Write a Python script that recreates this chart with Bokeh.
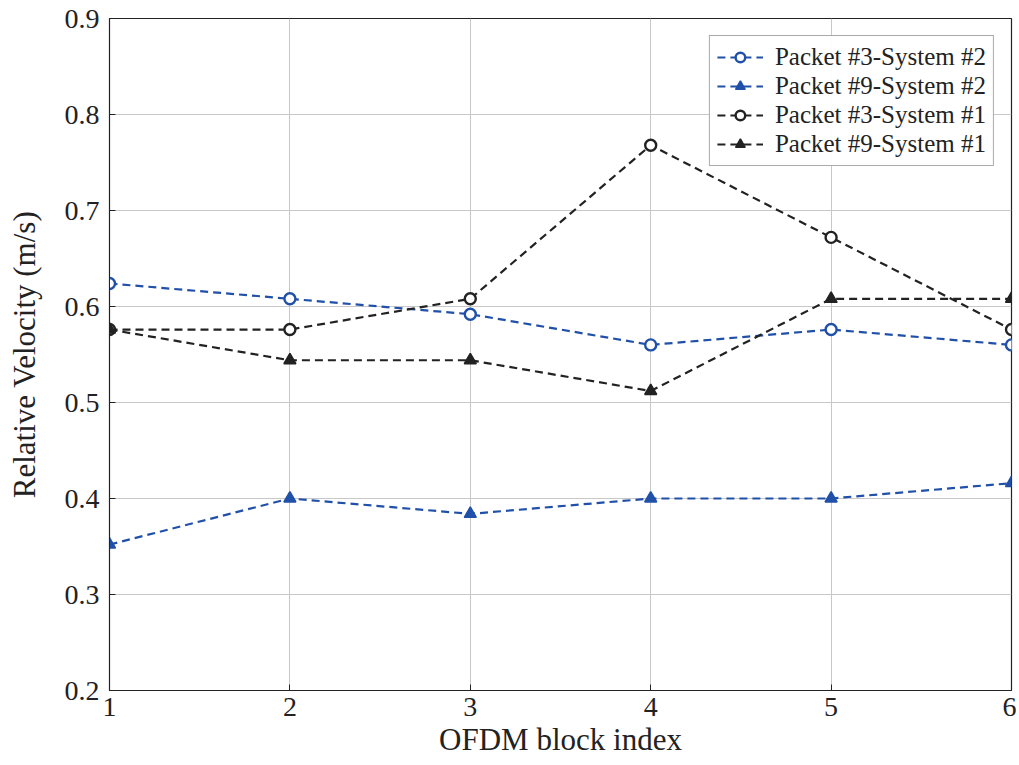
from bokeh.plotting import figure
from bokeh.models import Range1d, FixedTicker, Legend, LegendItem
from bokeh.embed import file_html
from bokeh.resources import INLINE

x_blocks = [1, 2, 3, 4, 5, 6]
p3_sys2 = [0.624, 0.608, 0.592, 0.560, 0.576, 0.560]
p9_sys2 = [0.352, 0.400, 0.384, 0.400, 0.400, 0.416]
p3_sys1 = [0.576, 0.576, 0.608, 0.768, 0.672, 0.576]
p9_sys1 = [0.576, 0.544, 0.544, 0.512, 0.608, 0.608]
labels = ["Packet #3-System #2", "Packet #9-System #2", "Packet #3-System #1", "Packet #9-System #1"]
y_ticks = [0.2, 0.3, 0.4, 0.5, 0.6, 0.7, 0.8, 0.9]

FONT = "Liberation Serif"
BLUE = "#2050a8"
BLACK = "#222222"

p = figure(width=1016, height=760, output_backend="svg", toolbar_location=None,
           x_range=Range1d(1, 6), y_range=Range1d(0.2, 0.9),
           min_border_left=109, min_border_right=5, min_border_top=18, min_border_bottom=70)
p.outline_line_color = "#222222"
p.outline_line_width = 1.2
p.background_fill_color = "white"
p.border_fill_color = "white"

p.xaxis.ticker = FixedTicker(ticks=x_blocks)
p.yaxis.ticker = FixedTicker(ticks=y_ticks)
p.yaxis.formatter.use_scientific = False
for ax in (p.xaxis, p.yaxis):
    ax.major_tick_in = 6
    ax.major_tick_out = 0
    ax.minor_tick_line_color = None
    ax.major_label_text_font = FONT
    ax.major_label_text_font_size = "28px"
    ax.major_label_text_color = "#222222"
    ax.axis_label_text_font = FONT
    ax.axis_label_text_font_size = "31px"
    ax.axis_label_text_font_style = "normal"
    ax.axis_label_text_color = "#222222"
    ax.axis_line_color = "#222222"
    ax.major_tick_line_color = "#222222"
p.xaxis.axis_label = "OFDM block index"
p.yaxis.axis_label = "Relative Velocity (m/s)"
p.xaxis.major_label_standoff = 7
p.yaxis.major_label_standoff = 10
p.xaxis.axis_label_standoff = 3
p.yaxis.axis_label_standoff = 20
p.grid.grid_line_color = "#c8c8c8"
p.grid.grid_line_width = 1

series = [(p3_sys2, BLUE, "circle"), (p9_sys2, BLUE, "triangle"),
          (p3_sys1, BLACK, "circle"), (p9_sys1, BLACK, "triangle")]
items = []
for (ys, col, mk), lab in zip(series, labels):
    l = p.line(x_blocks, ys, line_color=col, line_width=2.2, line_dash="8 5")
    if mk == "circle":
        m = p.scatter(x_blocks, ys, marker="circle", size=11, line_color=col, line_width=2.4,
                      fill_color="white")
    else:
        m = p.scatter(x_blocks, ys, marker="triangle", size=12, line_color=col, line_width=1.5,
                      fill_color=col)
    items.append(LegendItem(label=lab, renderers=[l, m]))

legend = Legend(items=items, location="top_right")
legend.label_text_font = FONT
legend.label_text_font_size = "25px"
legend.label_text_color = "#222222"
legend.border_line_color = "#555555"
legend.border_line_width = 1.2
legend.glyph_width = 46
legend.glyph_height = 24
legend.label_height = 24
legend.label_standoff = 12
legend.spacing = 1
legend.padding = 7
legend.margin = 17
p.add_layout(legend)

open("out.html", "w").write(file_html(p, INLINE))
